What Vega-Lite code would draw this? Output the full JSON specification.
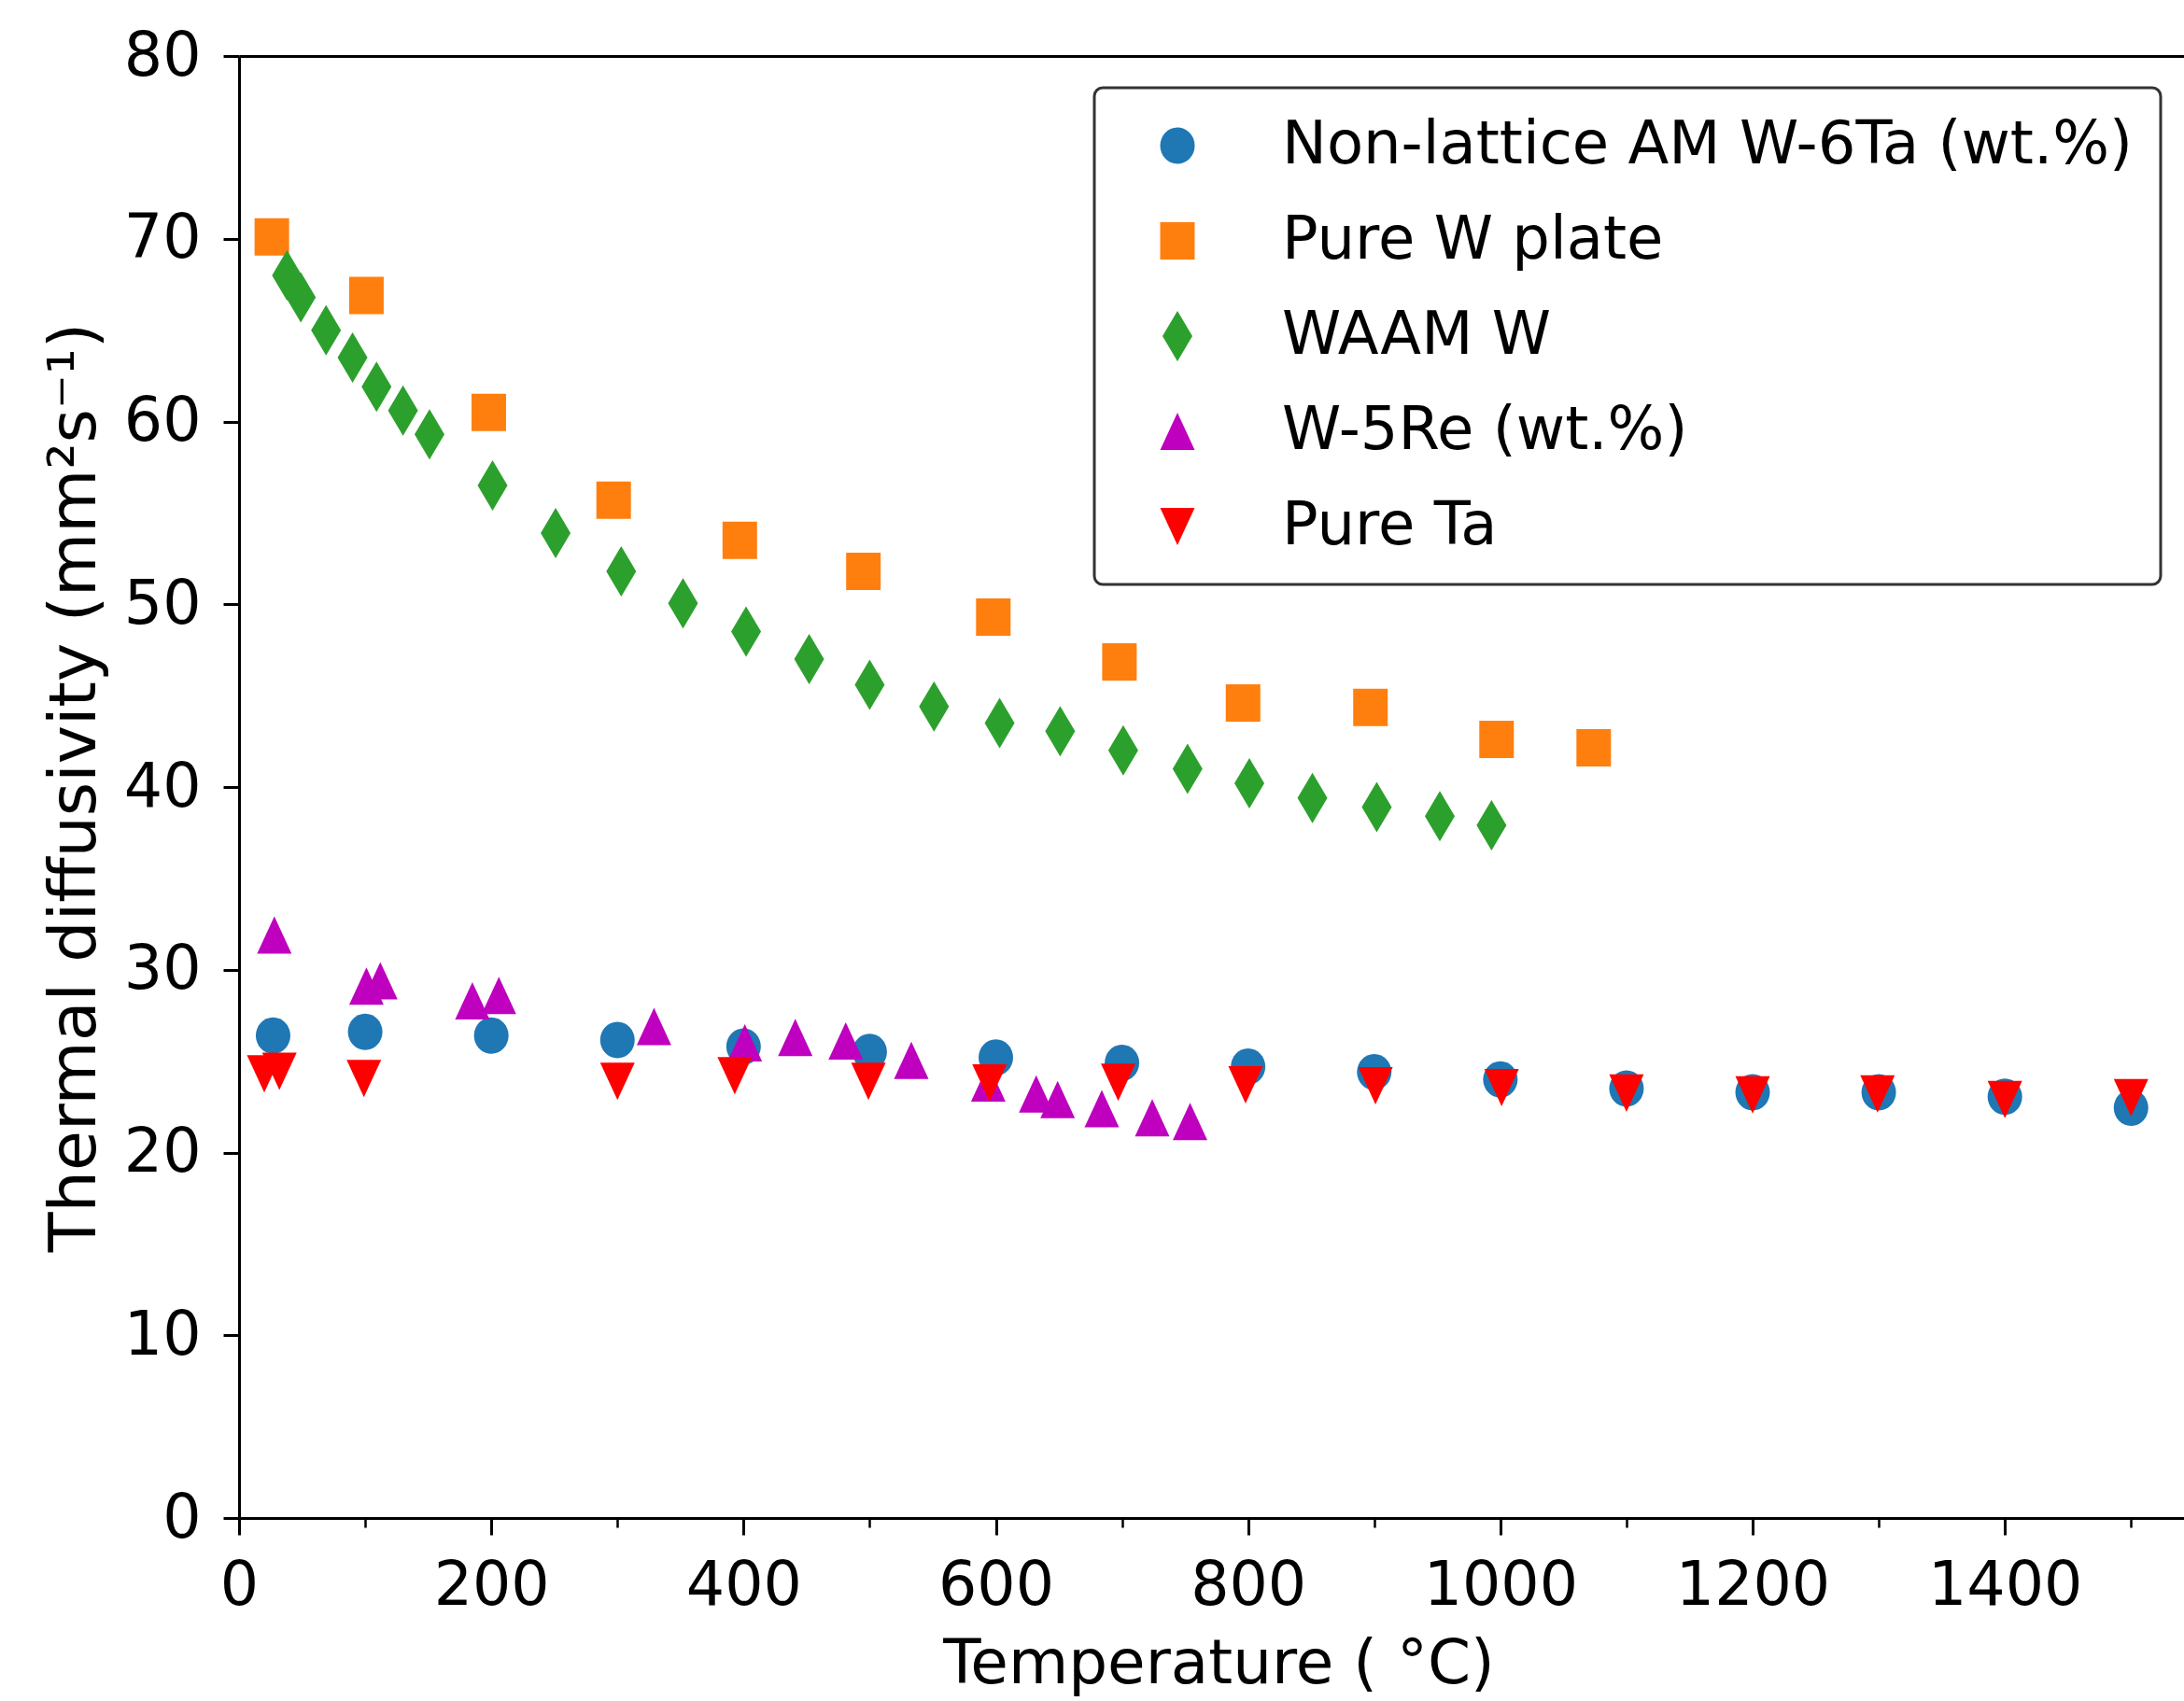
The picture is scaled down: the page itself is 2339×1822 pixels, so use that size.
{
  "$schema": "https://vega.github.io/schema/vega-lite/v6.json",
  "width": 2083,
  "height": 1566,
  "autosize": "none",
  "padding": {"left": 256, "top": 60, "right": 0, "bottom": 196},
  "background": "white",
  "data": {
    "values": [
      {"s": "Non-lattice AM W-6Ta (wt.%)", "t": 27, "d": 26.4},
      {"s": "Non-lattice AM W-6Ta (wt.%)", "t": 100, "d": 26.6},
      {"s": "Non-lattice AM W-6Ta (wt.%)", "t": 200, "d": 26.4},
      {"s": "Non-lattice AM W-6Ta (wt.%)", "t": 300, "d": 26.15},
      {"s": "Non-lattice AM W-6Ta (wt.%)", "t": 400, "d": 25.8},
      {"s": "Non-lattice AM W-6Ta (wt.%)", "t": 500, "d": 25.5},
      {"s": "Non-lattice AM W-6Ta (wt.%)", "t": 600, "d": 25.2},
      {"s": "Non-lattice AM W-6Ta (wt.%)", "t": 700, "d": 24.9},
      {"s": "Non-lattice AM W-6Ta (wt.%)", "t": 800, "d": 24.7},
      {"s": "Non-lattice AM W-6Ta (wt.%)", "t": 900, "d": 24.4},
      {"s": "Non-lattice AM W-6Ta (wt.%)", "t": 1000, "d": 24.0},
      {"s": "Non-lattice AM W-6Ta (wt.%)", "t": 1100, "d": 23.5},
      {"s": "Non-lattice AM W-6Ta (wt.%)", "t": 1200, "d": 23.3},
      {"s": "Non-lattice AM W-6Ta (wt.%)", "t": 1300, "d": 23.3},
      {"s": "Non-lattice AM W-6Ta (wt.%)", "t": 1400, "d": 23.05},
      {"s": "Non-lattice AM W-6Ta (wt.%)", "t": 1500, "d": 22.45},
      {"s": "Pure W plate", "t": 26, "d": 70.1},
      {"s": "Pure W plate", "t": 101, "d": 66.9},
      {"s": "Pure W plate", "t": 198, "d": 60.5},
      {"s": "Pure W plate", "t": 297, "d": 55.7},
      {"s": "Pure W plate", "t": 397, "d": 53.5},
      {"s": "Pure W plate", "t": 495, "d": 51.8},
      {"s": "Pure W plate", "t": 598, "d": 49.3},
      {"s": "Pure W plate", "t": 698, "d": 46.85},
      {"s": "Pure W plate", "t": 796, "d": 44.6},
      {"s": "Pure W plate", "t": 897, "d": 44.35},
      {"s": "Pure W plate", "t": 997, "d": 42.6},
      {"s": "Pure W plate", "t": 1074, "d": 42.15},
      {"s": "WAAM W", "t": 38, "d": 68.0},
      {"s": "WAAM W", "t": 49, "d": 66.8},
      {"s": "WAAM W", "t": 69, "d": 65.0},
      {"s": "WAAM W", "t": 90, "d": 63.5},
      {"s": "WAAM W", "t": 109, "d": 61.9},
      {"s": "WAAM W", "t": 130, "d": 60.6},
      {"s": "WAAM W", "t": 151, "d": 59.3},
      {"s": "WAAM W", "t": 201, "d": 56.5},
      {"s": "WAAM W", "t": 251, "d": 53.9},
      {"s": "WAAM W", "t": 303, "d": 51.8},
      {"s": "WAAM W", "t": 352, "d": 50.05},
      {"s": "WAAM W", "t": 402, "d": 48.5},
      {"s": "WAAM W", "t": 452, "d": 47.0},
      {"s": "WAAM W", "t": 500, "d": 45.6},
      {"s": "WAAM W", "t": 551, "d": 44.4},
      {"s": "WAAM W", "t": 603, "d": 43.5},
      {"s": "WAAM W", "t": 651, "d": 43.05},
      {"s": "WAAM W", "t": 701, "d": 42.0},
      {"s": "WAAM W", "t": 752, "d": 41.0},
      {"s": "WAAM W", "t": 801, "d": 40.2},
      {"s": "WAAM W", "t": 851, "d": 39.4},
      {"s": "WAAM W", "t": 902, "d": 38.9},
      {"s": "WAAM W", "t": 952, "d": 38.4},
      {"s": "WAAM W", "t": 993, "d": 37.9},
      {"s": "W-5Re (wt.%)", "t": 28, "d": 31.9},
      {"s": "W-5Re (wt.%)", "t": 101, "d": 29.1},
      {"s": "W-5Re (wt.%)", "t": 112, "d": 29.4},
      {"s": "W-5Re (wt.%)", "t": 185, "d": 28.3},
      {"s": "W-5Re (wt.%)", "t": 206, "d": 28.6},
      {"s": "W-5Re (wt.%)", "t": 329, "d": 26.9},
      {"s": "W-5Re (wt.%)", "t": 401, "d": 26.0},
      {"s": "W-5Re (wt.%)", "t": 441, "d": 26.3},
      {"s": "W-5Re (wt.%)", "t": 481, "d": 26.1},
      {"s": "W-5Re (wt.%)", "t": 533, "d": 25.05},
      {"s": "W-5Re (wt.%)", "t": 594, "d": 23.8},
      {"s": "W-5Re (wt.%)", "t": 632, "d": 23.2},
      {"s": "W-5Re (wt.%)", "t": 649, "d": 22.9},
      {"s": "W-5Re (wt.%)", "t": 684, "d": 22.4},
      {"s": "W-5Re (wt.%)", "t": 724, "d": 21.9},
      {"s": "W-5Re (wt.%)", "t": 754, "d": 21.7},
      {"s": "Pure Ta", "t": 20, "d": 24.3},
      {"s": "Pure Ta", "t": 32, "d": 24.45},
      {"s": "Pure Ta", "t": 99, "d": 24.05},
      {"s": "Pure Ta", "t": 300, "d": 23.9},
      {"s": "Pure Ta", "t": 393, "d": 24.2},
      {"s": "Pure Ta", "t": 499, "d": 23.9},
      {"s": "Pure Ta", "t": 595, "d": 23.8},
      {"s": "Pure Ta", "t": 697, "d": 23.85},
      {"s": "Pure Ta", "t": 798, "d": 23.7},
      {"s": "Pure Ta", "t": 901, "d": 23.65},
      {"s": "Pure Ta", "t": 1001, "d": 23.55},
      {"s": "Pure Ta", "t": 1100, "d": 23.25},
      {"s": "Pure Ta", "t": 1200, "d": 23.15},
      {"s": "Pure Ta", "t": 1299, "d": 23.2},
      {"s": "Pure Ta", "t": 1400, "d": 22.9},
      {"s": "Pure Ta", "t": 1500, "d": 23.0}
    ]
  },
  "layer": [
    {
      "mark": {"type": "point", "filled": true, "opacity": 1, "strokeWidth": 0, "size": 2916},
      "encoding": {
        "x": {
          "field": "t", "type": "quantitative",
          "scale": {"domain": [0, 1542], "nice": false, "zero": false},
          "axis": {
            "orient": "bottom",
            "values": [0, 200, 400, 600, 800, 1000, 1200, 1400],
            "format": "d",
            "grid": false,
            "tickSize": 18, "tickWidth": 3, "tickColor": "black",
            "domainWidth": 3, "domainColor": "black",
            "labelFontSize": 65, "labelPadding": 23, "labelColor": "black",
            "labelFlush": false, "labelOverlap": false, "labelBound": false,
            "title": "Temperature ( °C)",
            "titleFontSize": 66, "titleFontWeight": "normal", "titleColor": "black",
            "titleBaseline": "alphabetic", "titleX": 1049, "titleY": 176, "titleAnchor": "middle", "titleAlign": "center"
          }
        },
        "y": {
          "field": "d", "type": "quantitative",
          "scale": {"domain": [0, 80], "nice": false, "zero": false},
          "axis": {
            "values": [0, 10, 20, 30, 40, 50, 60, 70, 80],
            "grid": false,
            "tickSize": 17, "tickWidth": 3, "tickColor": "black",
            "domainWidth": 3, "domainColor": "black",
            "labelFontSize": 65, "labelPadding": 24, "labelColor": "black",
            "labelFlush": false, "labelOverlap": false, "labelBound": false,
            "title": "Thermal diffusivity (mm²s⁻¹)",
            "titleFontSize": 70, "titleFontWeight": "normal", "titleColor": "black",
            "titleBaseline": "alphabetic", "titleX": -155, "titleY": 783, "titleAngle": -90, "titleAlign": "center"
          }
        },
        "color": {
          "field": "s", "type": "nominal",
          "scale": {
            "domain": ["Non-lattice AM W-6Ta (wt.%)", "Pure W plate", "WAAM W", "W-5Re (wt.%)", "Pure Ta"],
            "range": ["#1f77b4", "#ff7f0e", "#2ca02c", "#bf00bf", "#ff0000"]
          },
          "legend": {"title": null}
        },
        "shape": {
          "field": "s", "type": "nominal",
          "scale": {
            "domain": ["Non-lattice AM W-6Ta (wt.%)", "Pure W plate", "WAAM W", "W-5Re (wt.%)", "Pure Ta"],
            "range": [
              "M-0.685,0 A0.685,0.722 0 1,0 0.685,0 A0.685,0.722 0 1,0 -0.685,0 Z",
              "M-0.685,-0.741 L0.685,-0.741 L0.685,0.741 L-0.685,0.741 Z",
              "M0,-1 L0.593,0 L0,1 L-0.593,0 Z",
              "M0,-0.741 L0.685,0.741 L-0.685,0.741 Z",
              "M0,0.741 L0.685,-0.741 L-0.685,-0.741 Z"
            ]
          },
          "legend": {"title": null}
        }
      }
    },
    {
      "mark": {"type": "rule", "opacity": 0},
      "encoding": {
        "x": {
          "field": "t", "type": "quantitative",
          "scale": {"domain": [0, 1542], "nice": false, "zero": false},
          "axis": {"orient": "top", "ticks": false, "labels": false, "grid": false, "title": null, "domainWidth": 3, "domainColor": "black"}
        }
      }
    },
    {
      "mark": {"type": "rule", "opacity": 0},
      "encoding": {
        "x": {
          "field": "t", "type": "quantitative",
          "scale": {"domain": [0, 1542], "nice": false, "zero": false},
          "axis": {"orient": "bottom", "values": [100, 300, 500, 700, 900, 1100, 1300, 1500], "labels": false, "grid": false, "title": null, "domain": false, "tickSize": 10, "tickWidth": 2.5, "tickColor": "black"}
        }
      }
    }
  ],
  "resolve": {"axis": {"x": "independent"}},
  "config": {
    "view": {"stroke": null},
    "font": "DejaVu Sans",
    "axis": {"labelFont": "DejaVu Sans", "titleFont": "DejaVu Sans"},
    "legend": {
      "orient": "none",
      "legendX": 916,
      "legendY": 34,
      "labelFont": "DejaVu Sans",
      "labelFontSize": 64,
      "labelColor": "black",
      "labelLimit": 2000,
      "symbolSize": 2916,
      "symbolStrokeWidth": 0,
      "symbolOpacity": 1,
      "padding": 30,
      "rowPadding": 38,
      "symbolOffset": 27,
      "labelOffset": 80,
      "strokeColor": "#333333",
      "strokeWidth": 3,
      "cornerRadius": 9,
      "fillColor": "white"
    }
  }
}
